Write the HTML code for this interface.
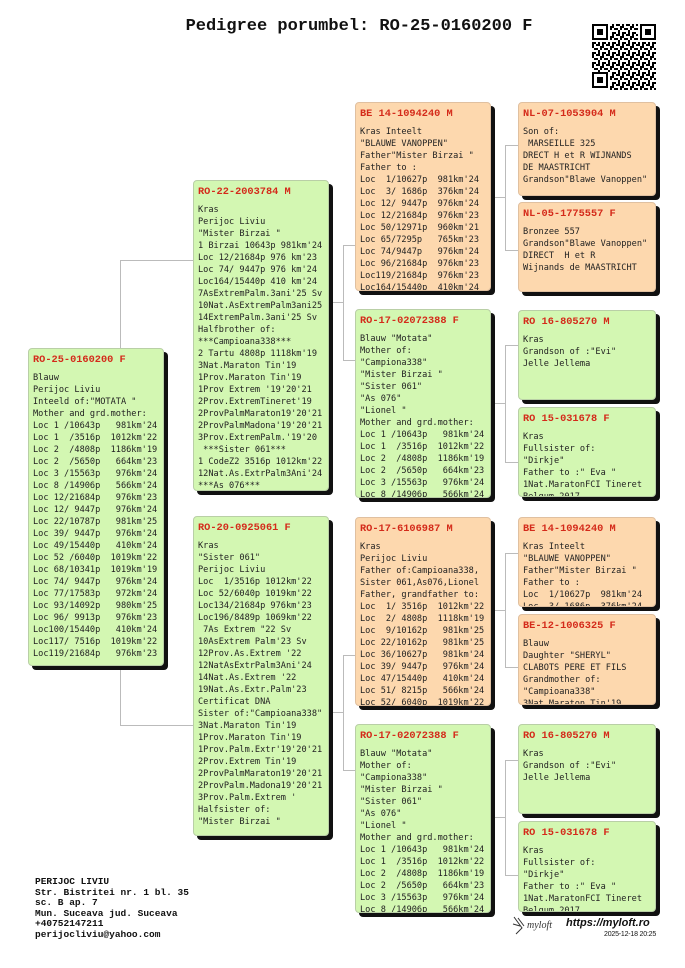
<!DOCTYPE html>
<html><head><meta charset="utf-8"><style>
body{margin:0;width:685px;height:968px;background:#fff;position:relative;overflow:hidden}
.b{position:absolute;border:1px solid #b9cfa6;border-radius:4px;box-shadow:4px 4px 0 #111;overflow:hidden;box-sizing:border-box}
.g{background:#d3f7b2}.o{background:#fdd8ae;border-color:#e0c0a0}
.h{position:absolute;left:4px;top:5px;font:bold 10.3px "Liberation Mono",monospace;color:#d42a1a;white-space:pre}
.t{position:absolute;left:4px;top:23px;font:8.6px/12px "DejaVu Sans Mono",monospace;color:#222;white-space:pre}
.l{position:absolute;background:#bbb}
</style></head><body>
<div style="position:absolute;left:0;width:718px;top:17px;text-align:center;font:bold 17px 'Liberation Mono',monospace;color:#111">Pedigree porumbel: RO-25-0160200 F</div>
<svg style="position:absolute;left:592px;top:24px" width="64" height="66" viewBox="0 0 64 66">
<defs><pattern id="q" width="10" height="10" patternUnits="userSpaceOnUse"><rect x="0" y="0" width="2" height="4"/><rect x="4" y="0" width="4" height="2"/><rect x="2" y="4" width="4" height="2"/><rect x="8" y="2" width="2" height="4"/><rect x="0" y="8" width="4" height="2"/><rect x="6" y="6" width="2" height="4"/></pattern></defs>
<rect width="64" height="66" fill="url(#q)"/>
<g fill="#fff"><rect x="0" y="0" width="18" height="18"/><rect x="46" y="0" width="18" height="18"/><rect x="0" y="48" width="18" height="18"/></g>
<g fill="none" stroke="#000" stroke-width="2"><rect x="1" y="1" width="14" height="14"/><rect x="49" y="1" width="14" height="14"/><rect x="1" y="49" width="14" height="14"/></g>
<g><rect x="5" y="5" width="6" height="6"/><rect x="53" y="5" width="6" height="6"/><rect x="5" y="53" width="6" height="6"/></g>
</svg>

<div class="l" style="left:120px;top:260px;width:1px;height:466px"></div>
<div class="l" style="left:120px;top:260px;width:73px;height:1px"></div>
<div class="l" style="left:120px;top:725px;width:73px;height:1px"></div>
<div class="l" style="left:343px;top:245px;width:1px;height:116px"></div>
<div class="l" style="left:328px;top:302px;width:15px;height:1px"></div>
<div class="l" style="left:343px;top:245px;width:12px;height:1px"></div>
<div class="l" style="left:343px;top:360px;width:12px;height:1px"></div>
<div class="l" style="left:343px;top:655px;width:1px;height:116px"></div>
<div class="l" style="left:328px;top:712px;width:15px;height:1px"></div>
<div class="l" style="left:343px;top:655px;width:12px;height:1px"></div>
<div class="l" style="left:343px;top:770px;width:12px;height:1px"></div>
<div class="l" style="left:505px;top:145px;width:1px;height:106px"></div>
<div class="l" style="left:490px;top:197px;width:15px;height:1px"></div>
<div class="l" style="left:505px;top:145px;width:13px;height:1px"></div>
<div class="l" style="left:505px;top:250px;width:13px;height:1px"></div>
<div class="l" style="left:505px;top:345px;width:1px;height:118px"></div>
<div class="l" style="left:490px;top:403px;width:15px;height:1px"></div>
<div class="l" style="left:505px;top:345px;width:13px;height:1px"></div>
<div class="l" style="left:505px;top:462px;width:13px;height:1px"></div>
<div class="l" style="left:505px;top:553px;width:1px;height:115px"></div>
<div class="l" style="left:490px;top:610px;width:15px;height:1px"></div>
<div class="l" style="left:505px;top:553px;width:13px;height:1px"></div>
<div class="l" style="left:505px;top:667px;width:13px;height:1px"></div>
<div class="l" style="left:505px;top:760px;width:1px;height:116px"></div>
<div class="l" style="left:490px;top:817px;width:15px;height:1px"></div>
<div class="l" style="left:505px;top:760px;width:13px;height:1px"></div>
<div class="l" style="left:505px;top:875px;width:13px;height:1px"></div>

<div class="b g" style="left:28px;top:348px;width:136px;height:318px"><div class="h">RO-25-0160200 F</div><div class="t">Blauw
Perijoc Liviu
Inteeld of:"MOTATA "
Mother and grd.mother:
Loc 1 /10643p   981km'24
Loc 1  /3516p  1012km'22
Loc 2  /4808p  1186km'19
Loc 2  /5650p   664km'23
Loc 3 /15563p   976km'24
Loc 8 /14906p   566km'24
Loc 12/21684p   976km'23
Loc 12/ 9447p   976km'24
Loc 22/10787p   981km'25
Loc 39/ 9447p   976km'24
Loc 49/15440p   410km'24
Loc 52 /6040p  1019km'22
Loc 68/10341p  1019km'19
Loc 74/ 9447p   976km'24
Loc 77/17583p   972km'24
Loc 93/14092p   980km'25
Loc 96/ 9913p   976km'23
Loc100/15440p   410km'24
Loc117/ 7516p  1019km'22
Loc119/21684p   976km'23</div></div>

<div class="b g" style="left:193px;top:180px;width:136px;height:311px"><div class="h">RO-22-2003784 M</div><div class="t">Kras
Perijoc Liviu
"Mister Birzai "
1 Birzai 10643p 981km'24
Loc 12/21684p 976 km'23
Loc 74/ 9447p 976 km'24
Loc164/15440p 410 km'24
7AsExtremPalm.3ani'25 Sv
10Nat.AsExtremPalm3ani25
14ExtremPalm.3ani'25 Sv
Halfbrother of:
***Campioana338***
2 Tartu 4808p 1118km'19
3Nat.Maraton Tin'19
1Prov.Maraton Tin'19
1Prov Extrem '19'20'21
2Prov.ExtremTineret'19
2ProvPalmMaraton19'20'21
2ProvPalmMadona'19'20'21
3Prov.ExtremPalm.'19'20
 ***Sister 061***
1 CodeZ2 3516p 1012km'22
12Nat.As.ExtrPalm3Ani'24
***As 076***</div></div>

<div class="b g" style="left:193px;top:516px;width:136px;height:320px"><div class="h">RO-20-0925061 F</div><div class="t">Kras
"Sister 061"
Perijoc Liviu
Loc  1/3516p 1012km'22
Loc 52/6040p 1019km'22
Loc134/21684p 976km'23
Loc196/8489p 1069km'22
 7As Extrem "22 Sv
10AsExtrem Palm'23 Sv
12Prov.As.Extrem '22
12NatAsExtrPalm3Ani'24
14Nat.As.Extrem '22
19Nat.As.Extr.Palm'23
Certificat DNA
Sister of:"Campioana338"
3Nat.Maraton Tin'19
1Prov.Maraton Tin'19
1Prov.Palm.Extr'19'20'21
2Prov.Extrem Tin'19
2ProvPalmMaraton19'20'21
2ProvPalm.Madona19'20'21
3Prov.Palm.Extrem '
Halfsister of:
"Mister Birzai "</div></div>

<div class="b o" style="left:355px;top:102px;width:136px;height:189px"><div class="h">BE 14-1094240 M</div><div class="t">Kras Inteelt
"BLAUWE VANOPPEN"
Father"Mister Birzai "
Father to :
Loc  1/10627p  981km'24
Loc  3/ 1686p  376km'24
Loc 12/ 9447p  976km'24
Loc 12/21684p  976km'23
Loc 50/12971p  960km'21
Loc 65/7295p   765km'23
Loc 74/9447p   976km'24
Loc 96/21684p  976km'23
Loc119/21684p  976km'23
Loc164/15440p  410km'24</div></div>

<div class="b g" style="left:355px;top:309px;width:136px;height:189px"><div class="h">RO-17-02072388 F</div><div class="t">Blauw "Motata"
Mother of:
"Campiona338"
"Mister Birzai "
"Sister 061"
"As 076"
"Lionel "
Mother and grd.mother:
Loc 1 /10643p   981km'24
Loc 1  /3516p  1012km'22
Loc 2  /4808p  1186km'19
Loc 2  /5650p   664km'23
Loc 3 /15563p   976km'24
Loc 8 /14906p   566km'24</div></div>

<div class="b o" style="left:355px;top:517px;width:136px;height:189px"><div class="h">RO-17-6106987 M</div><div class="t">Kras
Perijoc Liviu
Father of:Campioana338,
Sister 061,As076,Lionel
Father, grandfather to:
Loc  1/ 3516p  1012km'22
Loc  2/ 4808p  1118km'19
Loc  9/10162p   981km'25
Loc 22/10162p   981km'25
Loc 36/10627p   981km'24
Loc 39/ 9447p   976km'24
Loc 47/15440p   410km'24
Loc 51/ 8215p   566km'24
Loc 52/ 6040p  1019km'22</div></div>

<div class="b g" style="left:355px;top:724px;width:136px;height:189px"><div class="h">RO-17-02072388 F</div><div class="t">Blauw "Motata"
Mother of:
"Campiona338"
"Mister Birzai "
"Sister 061"
"As 076"
"Lionel "
Mother and grd.mother:
Loc 1 /10643p   981km'24
Loc 1  /3516p  1012km'22
Loc 2  /4808p  1186km'19
Loc 2  /5650p   664km'23
Loc 3 /15563p   976km'24
Loc 8 /14906p   566km'24</div></div>

<div class="b o" style="left:518px;top:102px;width:138px;height:94px"><div class="h">NL-07-1053904 M</div><div class="t">Son of:
 MARSEILLE 325
DRECT H et R WIJNANDS
DE MAASTRICHT
Grandson"Blawe Vanoppen"</div></div>
<div class="b o" style="left:518px;top:202px;width:138px;height:90px"><div class="h">NL-05-1775557 F</div><div class="t">Bronzee 557
Grandson"Blawe Vanoppen"
DIRECT  H et R
Wijnands de MAASTRICHT</div></div>
<div class="b g" style="left:518px;top:310px;width:138px;height:90px"><div class="h">RO 16-805270 M</div><div class="t">Kras
Grandson of :"Evi"
Jelle Jellema</div></div>
<div class="b g" style="left:518px;top:407px;width:138px;height:90px"><div class="h">RO 15-031678 F</div><div class="t">Kras
Fullsister of:
"Dirkje"
Father to :" Eva "
1Nat.MaratonFCI Tineret
Belgum 2017</div></div>
<div class="b o" style="left:518px;top:517px;width:138px;height:90px"><div class="h">BE 14-1094240 M</div><div class="t">Kras Inteelt
"BLAUWE VANOPPEN"
Father"Mister Birzai "
Father to :
Loc  1/10627p  981km'24
Loc  3/ 1686p  376km'24</div></div>
<div class="b o" style="left:518px;top:614px;width:138px;height:91px"><div class="h">BE-12-1006325 F</div><div class="t">Blauw
Daughter "SHERYL"
CLABOTS PERE ET FILS
Grandmother of:
"Campioana338"
3Nat.Maraton Tin'19</div></div>
<div class="b g" style="left:518px;top:724px;width:138px;height:90px"><div class="h">RO 16-805270 M</div><div class="t">Kras
Grandson of :"Evi"
Jelle Jellema</div></div>
<div class="b g" style="left:518px;top:821px;width:138px;height:91px"><div class="h">RO 15-031678 F</div><div class="t">Kras
Fullsister of:
"Dirkje"
Father to :" Eva "
1Nat.MaratonFCI Tineret
Belgum 2017</div></div>

<div style="position:absolute;left:35px;top:877px;font:bold 9.5px/10.6px 'Liberation Mono',monospace;color:#111;white-space:pre">PERIJOC LIVIU
Str. Bistritei nr. 1 bl. 35
sc. B ap. 7
Mun. Suceava jud. Suceava
+40752147211
perijocliviu@yahoo.com</div>
<svg style="position:absolute;left:510px;top:914px" width="55" height="22"><path d="M4 3 L12 14 L6 20 M8 4 L14 12 M3 10 L10 12" stroke="#333" fill="none" stroke-width="1"/><text x="17" y="14" font-family="Liberation Serif,serif" font-style="italic" font-size="10" fill="#333">myloft</text></svg>
<div style="position:absolute;left:566px;top:917px;font:italic bold 11px 'Liberation Sans',sans-serif;color:#111">https://myloft.ro</div>
<div style="position:absolute;left:604px;top:931px;font:7px 'Liberation Sans',sans-serif;color:#111;letter-spacing:-0.2px">2025-12-18 20:25</div>
</body></html>
